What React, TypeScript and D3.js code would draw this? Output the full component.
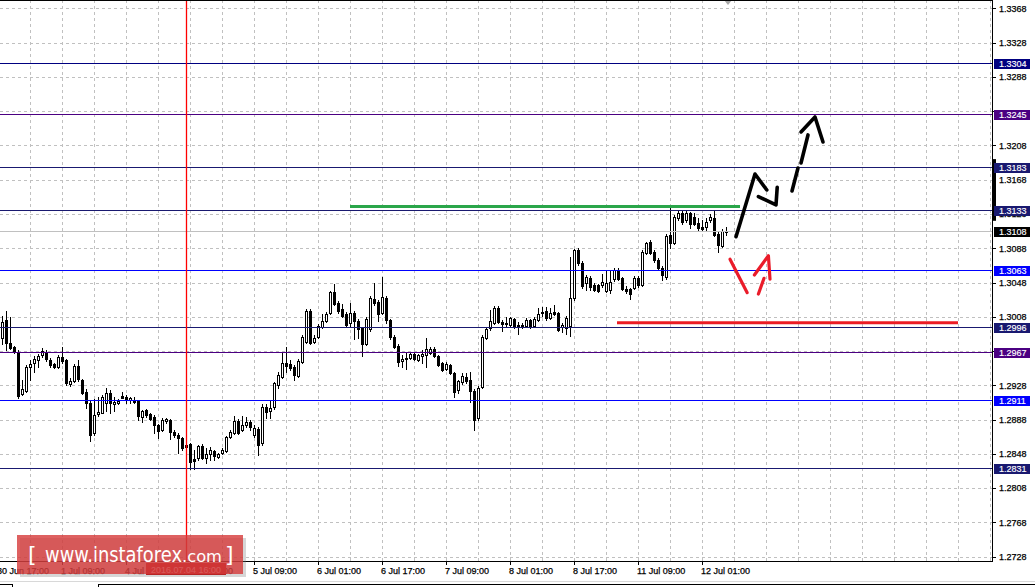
import React from "react";
import * as d3 from "d3";

// ---------- data ----------
const PRICE_MIN = 1.272298;
const PRICE_MAX = 1.337769;
const FIRST_BAR = 1; // bar index of first candle (bar 0 = 30 Jun 17:00, H1)

const opens = [
  1.2983, 1.3004, 1.2977, 1.2973, 1.2967, 1.2918, 1.2921, 1.2949, 1.2954, 1.2958,
  1.2963, 1.2966, 1.2958, 1.2953, 1.2949, 1.2961, 1.2958, 1.2930, 1.2933, 1.2951,
  1.2934, 1.2920, 1.2907, 1.2872, 1.2895, 1.2896, 1.2907, 1.2919, 1.2906, 1.2907,
  1.2916, 1.2914, 1.2911, 1.2911, 1.2911, 1.2891, 1.2899, 1.2895, 1.2891, 1.2882,
  1.2876, 1.2886, 1.2888, 1.2874, 1.2870, 1.2867, 1.2858, 1.2860, 1.2842, 1.2843,
  1.2857, 1.2843, 1.2848, 1.2851, 1.2844, 1.2849, 1.2851, 1.2868, 1.2872, 1.2886,
  1.2876, 1.2882, 1.2885, 1.2870, 1.2877, 1.2861, 1.2903, 1.2898, 1.2903, 1.2928,
  1.2938, 1.2954, 1.2953, 1.2949, 1.2939, 1.2955, 1.2979, 1.3015, 1.2979, 1.2984,
  1.2996, 1.3003, 1.3012, 1.3037, 1.3024, 1.3017, 1.3011, 1.3001, 1.3012, 1.3003,
  1.2995, 1.2976, 1.2994, 1.3029, 1.3025, 1.3012, 1.3030, 1.3004, 1.2984, 1.2974,
  1.2956, 1.2959, 1.2960, 1.2965, 1.2958, 1.2962, 1.2963, 1.2966, 1.2970, 1.2962,
  1.2954, 1.2947, 1.2952, 1.2942, 1.2923, 1.2932, 1.2938, 1.2934, 1.2921, 1.2890,
  1.2926, 1.2983, 1.2995, 1.3001, 1.3018, 1.3002, 1.3001, 1.2998, 1.3005, 1.2998,
  1.2998, 1.2997, 1.3004, 1.2997, 1.3004, 1.3014, 1.3015, 1.3007, 1.3014, 1.3012,
  1.2996, 1.2995, 1.2997, 1.3030, 1.3086, 1.3071, 1.3047, 1.3053, 1.3045, 1.3045,
  1.3045, 1.3038, 1.3039, 1.3052, 1.3063, 1.3053, 1.3040, 1.3040, 1.3042, 1.3053,
  1.3045, 1.3082, 1.3095, 1.3084, 1.3074, 1.3065, 1.3054, 1.3103, 1.3094, 1.3123,
  1.3129, 1.3121, 1.3129, 1.3125, 1.3118, 1.3113, 1.3113, 1.3121, 1.3123, 1.3105,
  1.3091, 1.3107,
];
const highs = [
  1.3009, 1.3015, 1.3008, 1.2974, 1.2969, 1.2934, 1.2952, 1.2958, 1.2962, 1.2965,
  1.2972, 1.2969, 1.2960, 1.2954, 1.2963, 1.2973, 1.2959, 1.2937, 1.2953, 1.2958,
  1.2935, 1.2924, 1.2910, 1.2912, 1.2914, 1.2917, 1.2925, 1.2922, 1.2914, 1.2912,
  1.2920, 1.2917, 1.2914, 1.2914, 1.2911, 1.2899, 1.2900, 1.2896, 1.2893, 1.2883,
  1.2890, 1.2890, 1.2889, 1.2876, 1.2872, 1.2868, 1.2861, 1.2861, 1.2853, 1.2858,
  1.2860, 1.2855, 1.2856, 1.2853, 1.2849, 1.2855, 1.2869, 1.2876, 1.2892, 1.2889,
  1.2892, 1.2891, 1.2888, 1.2882, 1.2879, 1.2906, 1.2906, 1.2910, 1.2932, 1.2944,
  1.2966, 1.2973, 1.2958, 1.2952, 1.2959, 1.2987, 1.3017, 1.3017, 1.2987, 1.3000,
  1.3011, 1.3014, 1.3038, 1.3046, 1.3026, 1.3023, 1.3014, 1.3024, 1.3015, 1.3005,
  1.2996, 1.3008, 1.3032, 1.3047, 1.3028, 1.3054, 1.3032, 1.3005, 1.2987, 1.2976,
  1.2963, 1.2966, 1.2967, 1.2967, 1.2965, 1.2969, 1.2983, 1.2973, 1.2973, 1.2963,
  1.2955, 1.2955, 1.2953, 1.2944, 1.2934, 1.2942, 1.2942, 1.2944, 1.2924, 1.2927,
  1.2987, 1.2996, 1.3016, 1.3021, 1.3021, 1.3004, 1.3008, 1.3008, 1.3007, 1.3002,
  1.3001, 1.3007, 1.3005, 1.3008, 1.3018, 1.3019, 1.3019, 1.3018, 1.3022, 1.3014,
  1.3001, 1.3009, 1.3078, 1.3087, 1.3088, 1.3073, 1.3057, 1.3056, 1.3047, 1.3046,
  1.3058, 1.3063, 1.3061, 1.3065, 1.3065, 1.3054, 1.3044, 1.3042, 1.3056, 1.3056,
  1.3086, 1.3095, 1.3098, 1.3086, 1.3077, 1.3067, 1.3105, 1.3136, 1.3127, 1.3133,
  1.3132, 1.3132, 1.3130, 1.3129, 1.3123, 1.3121, 1.3123, 1.3128, 1.3132, 1.3107,
  1.3110, 1.3113,
];
const lows = [
  1.2976, 1.2969, 1.2970, 1.2966, 1.2913, 1.2917, 1.2920, 1.2934, 1.2944, 1.2949,
  1.2961, 1.2956, 1.2949, 1.2948, 1.2948, 1.2954, 1.2928, 1.2927, 1.2932, 1.2933,
  1.2918, 1.2902, 1.2863, 1.2870, 1.2892, 1.2896, 1.2898, 1.2896, 1.2898, 1.2906,
  1.2913, 1.2907, 1.2907, 1.2907, 1.2888, 1.2885, 1.2891, 1.2888, 1.2872, 1.2867,
  1.2875, 1.2884, 1.2865, 1.2868, 1.2849, 1.2853, 1.2855, 1.2830, 1.2830, 1.2841,
  1.2842, 1.2837, 1.2841, 1.2841, 1.2843, 1.2848, 1.2850, 1.2867, 1.2871, 1.2871,
  1.2875, 1.2879, 1.2876, 1.2868, 1.2847, 1.2858, 1.2890, 1.2890, 1.2900, 1.2925,
  1.2937, 1.2944, 1.2946, 1.2934, 1.2938, 1.2954, 1.2977, 1.2976, 1.2977, 1.2983,
  1.2995, 1.3002, 1.3011, 1.3022, 1.3012, 1.3008, 1.2997, 1.2997, 1.2982, 1.2983,
  1.2962, 1.2975, 1.2991, 1.3022, 1.3003, 1.3011, 1.3001, 1.2982, 1.2972, 1.2951,
  1.2949, 1.2947, 1.2959, 1.2958, 1.2956, 1.2954, 1.2949, 1.2965, 1.2961, 1.2951,
  1.2945, 1.2946, 1.2941, 1.2914, 1.2919, 1.2930, 1.2931, 1.2909, 1.2876, 1.2888,
  1.2925, 1.2982, 1.2993, 1.3000, 1.3001, 1.2991, 1.2997, 1.2997, 1.2995, 1.2988,
  1.2995, 1.2996, 1.2995, 1.2996, 1.3003, 1.3009, 1.3004, 1.3005, 1.3010, 1.2991,
  1.2990, 1.2988, 1.2986, 1.3028, 1.3068, 1.3042, 1.3039, 1.3039, 1.3038, 1.3037,
  1.3043, 1.3037, 1.3036, 1.3050, 1.3051, 1.3039, 1.3036, 1.3029, 1.3040, 1.3043,
  1.3044, 1.3081, 1.3081, 1.3072, 1.3063, 1.3051, 1.3052, 1.3088, 1.3093, 1.3121,
  1.3116, 1.3119, 1.3112, 1.3115, 1.3109, 1.3108, 1.3109, 1.3119, 1.3102, 1.3084,
  1.3090, 1.3104,
];
const closes = [
  1.3002, 1.2977, 1.2972, 1.2967, 1.2916, 1.2924, 1.2949, 1.2953, 1.2959, 1.2962,
  1.2968, 1.2959, 1.2952, 1.2949, 1.2961, 1.2956, 1.2931, 1.2933, 1.2951, 1.2935,
  1.2919, 1.2907, 1.2870, 1.2893, 1.2897, 1.2914, 1.2919, 1.2907, 1.2909, 1.2910,
  1.2913, 1.2911, 1.2913, 1.2909, 1.2892, 1.2898, 1.2893, 1.2889, 1.2882, 1.2875,
  1.2888, 1.2889, 1.2874, 1.2870, 1.2867, 1.2855, 1.2856, 1.2839, 1.2840, 1.2857,
  1.2843, 1.2848, 1.2853, 1.2846, 1.2848, 1.2853, 1.2868, 1.2874, 1.2886, 1.2872,
  1.2882, 1.2885, 1.2879, 1.2878, 1.2858, 1.2903, 1.2897, 1.2902, 1.2931, 1.2940,
  1.2954, 1.2951, 1.2948, 1.2940, 1.2956, 1.2984, 1.3015, 1.2977, 1.2983, 1.2997,
  1.3003, 1.3011, 1.3037, 1.3023, 1.3015, 1.3009, 1.2998, 1.3012, 1.3003, 1.2994,
  1.2976, 1.3005, 1.3030, 1.3024, 1.3011, 1.3031, 1.3004, 1.2984, 1.2973, 1.2955,
  1.2959, 1.2960, 1.2965, 1.2959, 1.2963, 1.2965, 1.2970, 1.2970, 1.2962, 1.2952,
  1.2946, 1.2953, 1.2942, 1.2920, 1.2933, 1.2939, 1.2933, 1.2921, 1.2888, 1.2925,
  1.2984, 1.2994, 1.3003, 1.3018, 1.3002, 1.3000, 1.3000, 1.3007, 1.2996, 1.2996,
  1.2996, 1.3004, 1.2996, 1.3005, 1.3011, 1.3012, 1.3007, 1.3012, 1.3011, 1.2993,
  1.2998, 1.3007, 1.3030, 1.3086, 1.3071, 1.3044, 1.3054, 1.3043, 1.3039, 1.3038,
  1.3049, 1.3047, 1.3049, 1.3063, 1.3052, 1.3040, 1.3038, 1.3035, 1.3053, 1.3045,
  1.3084, 1.3094, 1.3082, 1.3074, 1.3065, 1.3057, 1.3102, 1.3094, 1.3125, 1.3129,
  1.3119, 1.3129, 1.3116, 1.3116, 1.3112, 1.3111, 1.3119, 1.3125, 1.3104, 1.3092,
  1.3108, 1.3108,
];

const timeLabels = [
  "30 Jun 17:00", "1 Jul 09:00", "4 Jul 01:00", "4 Jul 17:00", "5 Jul 09:00", "6 Jul 01:00",
  "6 Jul 17:00", "7 Jul 09:00", "8 Jul 01:00", "8 Jul 17:00", "11 Jul 09:00", "12 Jul 01:00",
];
const timeLabelBars = [0, 16, 32, 48, 64, 80, 96, 112, 128, 144, 160, 176];

const priceTicks = [
  1.2728, 1.2768, 1.2808, 1.2848, 1.2888, 1.2928, 1.2968, 1.3008, 1.3048,
  1.3088, 1.3128, 1.3168, 1.3208, 1.3248, 1.3288, 1.3328, 1.3368,
];

const levelPrices = [1.3304, 1.3245, 1.3183, 1.3133, 1.3063, 1.2996, 1.2967, 1.2911, 1.2831];
const levelKinds = ["navy", "purple", "midnight", "midnight", "blue", "midnight", "purple", "blue", "midnight"];
const currentPrice = 1.3108;

const markerBar = 47; // 2016.07.04 16:00
const markerLabel = "2016.07.04 16:00";

const greenLine = { from: 88, to: 185.5, price: 1.31367 };
const redLine = { from: 154.75, to: 240, price: 1.3001 };

const blackStrokes: [number, number][][] = [
  [[184.5, 1.31015], [189.25, 1.31746], [192.2, 1.3156]],
  [[190.1, 1.31482], [194.5, 1.31385], [194.8, 1.31591]],
  [[198.5, 1.31548], [200, 1.31816]],
  [[200.75, 1.31875], [202.5, 1.32202]],
  [[200.75, 1.32237], [204.25, 1.32412], [206.25, 1.3212]],
];
const redStrokes: [number, number][][] = [
  [[183, 1.30751], [187.3, 1.30361]],
  [[189.1, 1.30568], [192.6, 1.30793], [193, 1.30518]],
  [[191.5, 1.30529], [190.1, 1.30346]],
];
const axisMarkerRange = [1.3120, 1.3192];

// ---------- styles ----------
const FONT = "'Liberation Sans', Arial, sans-serif";
const KIND_COLOR: Record<string, string> = {
  navy: "#000080",
  purple: "#4b0082",
  midnight: "#191970",
  blue: "#0000ff",
};

export default function App() {
  const plotRight = 992;
  const plotBottom = 561;
  const x = d3.scaleLinear().domain([0, 248]).range([-2, 990]);
  const y = d3.scaleLinear().domain([PRICE_MIN, PRICE_MAX]).range([plotBottom, 0]);
  const px = (k: number) => Math.round(x(k));
  const py = (p: number) => Math.round(y(p));

  const gridBars = d3.range(8, 249, 8).filter((k) => x(k) < plotRight);

  const line = d3
    .line<[number, number]>()
    .x((d) => x(d[0]))
    .y((d) => y(d[1]));

  const candles = opens.map((o, i) => {
    const k = FIRST_BAR + i;
    const c = closes[i];
    const cx = px(k);
    const yh = py(highs[i]);
    const yl = py(lows[i]);
    const yt = py(Math.max(o, c));
    const yb = py(Math.min(o, c));
    const bull = c > o;
    return (
      <g key={i}>
        <line x1={cx + 0.5} x2={cx + 0.5} y1={yh} y2={yl + 1} stroke="#000" />
        {bull && yb - yt >= 2 ? (
          <rect x={cx - 0.5} y={yt + 0.5} width={2} height={yb - yt} fill="#fff" stroke="#000" />
        ) : (
          <rect x={cx - 1} y={yt} width={3} height={Math.max(yb - yt + 1, 1)} fill="#000" />
        )}
      </g>
    );
  });

  const levelYs = levelPrices.map((p) => y(p)).concat([y(currentPrice)]);
  const visibleTicks = priceTicks.filter((t) => levelYs.every((ly) => Math.abs(ly - y(t)) >= 4));

  const mx = px(markerBar);
  const shiftX = x(FIRST_BAR + opens.length - 0.5);

  return (
    <svg
      width={1035}
      height={587}
      style={{ position: "absolute", left: 0, top: 0, display: "block", background: "#fff" }}
      fontFamily={FONT}
    >
      <rect x={0} y={0} width={1035} height={587} fill="#fff" />
      {/* grid */}
      <g stroke="#c0c0c0" strokeDasharray="3,3" shapeRendering="crispEdges">
        {priceTicks.map((t, i) => (
          <line key={"h" + i} x1={0} x2={plotRight} y1={py(t) + 0.5} y2={py(t) + 0.5} />
        ))}
        {gridBars.map((k, i) => (
          <line key={"v" + i} x1={px(k) + 0.5} x2={px(k) + 0.5} y1={0} y2={plotBottom} />
        ))}
      </g>

      {/* candles */}
      <g shapeRendering="crispEdges">{candles}</g>

      {/* level lines */}
      <g shapeRendering="crispEdges">
        <line x1={0} x2={plotRight} y1={py(currentPrice) + 0.5} y2={py(currentPrice) + 0.5} stroke="#c0c0c0" />
        {levelPrices.map((p, i) => (
          <line key={i} x1={0} x2={plotRight} y1={py(p) + 0.5} y2={py(p) + 0.5} stroke={KIND_COLOR[levelKinds[i]]} />
        ))}
      </g>

      {/* vertical marker line */}
      <line x1={mx + 0.5} x2={mx + 0.5} y1={0} y2={plotBottom} stroke="#ff0000" strokeWidth={1.3} />

      {/* green and red horizontal lines */}
      <line x1={x(greenLine.from)} x2={x(greenLine.to)} y1={y(greenLine.price)} y2={y(greenLine.price)} stroke="#2aa64a" strokeWidth={3.2} />
      <line x1={x(redLine.from)} x2={x(redLine.to)} y1={y(redLine.price)} y2={y(redLine.price)} stroke="#ec1c24" strokeWidth={3} />

      {/* hand-drawn arrows */}
      <g fill="none" strokeLinecap="round" strokeLinejoin="round">
        {blackStrokes.map((s, i) => (
          <path key={"b" + i} d={line(s) || ""} stroke="#000" strokeWidth={3.6} />
        ))}
        {redStrokes.map((s, i) => (
          <path key={"r" + i} d={line(s) || ""} stroke="#ea1c2a" strokeWidth={3.2} />
        ))}
      </g>

      {/* chart shift marker */}
      <path d={`M${shiftX - 4},0 L${shiftX + 4},0 L${shiftX},5 Z`} fill="#a8a8a8" />

      {/* frame */}
      <g shapeRendering="crispEdges" stroke="#000">
        <line x1={0} x2={plotRight + 1} y1={0.5} y2={0.5} strokeWidth={1} />
        <line x1={plotRight + 0.5} x2={plotRight + 0.5} y1={0} y2={plotBottom + 1} />
        <line x1={0} x2={plotRight + 1} y1={plotBottom + 0.5} y2={plotBottom + 0.5} />
      </g>

      {/* right axis */}
      <g shapeRendering="crispEdges">
        {priceTicks.map((t, i) => (
          <line key={i} x1={plotRight} x2={plotRight + 4} y1={py(t) + 0.5} y2={py(t) + 0.5} stroke="#000" />
        ))}
      </g>
      <g fontSize={9} fill="#000" stroke="#000" strokeWidth={0.25}>
        {visibleTicks.map((t, i) => (
          <text key={i} x={999} y={y(t) + 3.3}>
            {t.toFixed(4)}
          </text>
        ))}
      </g>
      <rect
        x={plotRight + 1}
        y={y(axisMarkerRange[1])}
        width={3}
        height={y(axisMarkerRange[0]) - y(axisMarkerRange[1])}
        fill="#000"
      />
      {levelPrices.map((p, i) => (
        <g key={i}>
          <rect x={994} y={py(p) - 4.5} width={36} height={10} fill={KIND_COLOR[levelKinds[i]]} shapeRendering="crispEdges" />
          <text x={999} y={py(p) + 4} fontSize={9} fill="#fff" stroke="#fff" strokeWidth={0.15}>
            {p.toFixed(4)}
          </text>
        </g>
      ))}
      <g>
        <rect x={994} y={py(currentPrice) - 4.5} width={36} height={10} fill="#000" shapeRendering="crispEdges" />
        <text x={999} y={py(currentPrice) + 4} fontSize={9} fill="#fff" stroke="#fff" strokeWidth={0.15}>
          {currentPrice.toFixed(4)}
        </text>
      </g>

      {/* bottom axis */}
      <g shapeRendering="crispEdges">
        {timeLabelBars.map((k, i) => (
          <line key={i} x1={px(k) + 0.5} x2={px(k) + 0.5} y1={plotBottom} y2={plotBottom + 4} stroke="#000" />
        ))}
      </g>
      <g fontSize={9} fill="#000" stroke="#000" strokeWidth={0.25}>
        {timeLabels.map((s, i) => (
          <text key={i} x={px(timeLabelBars[i]) - 1} y={573.5}>
            {s}
          </text>
        ))}
      </g>
      <rect x={mx - 40} y={563} width={80} height={12} fill="#d00000" shapeRendering="crispEdges" />
      <text x={mx} y={572.5} fontSize={9} fill="#fff" textAnchor="middle">
        {markerLabel}
      </text>

      {/* window bottom */}
      <g shapeRendering="crispEdges">
        <line x1={0} x2={1035} y1={581.5} y2={581.5} stroke="#d8d8d8" />
        <line x1={0} x2={12} y1={584.5} y2={584.5} stroke="#000" />
        <line x1={12.5} x2={12.5} y1={584} y2={587} stroke="#000" />
        <line x1={98} x2={1035} y1={584.5} y2={584.5} stroke="#000" />
        <line x1={98.5} x2={98.5} y1={584} y2={587} stroke="#000" />
      </g>

      {/* logo */}
      <g>
        <rect x={20} y={538} width={226} height={39} fill="#777" opacity={0.3} />
        <rect x={17} y={535} width={226} height={39} fill="rgb(214,58,58)" opacity={0.8} />
        <g fill="#fff" fontFamily="'DejaVu Sans', Verdana, sans-serif">
          <text x={28} y={562} fontSize={22}>[</text>
          <text x={45} y={562} fontSize={22} textLength={137} lengthAdjust="spacingAndGlyphs">
            www.instaforex
          </text>
          <text x={182} y={562} fontSize={16} textLength={40} lengthAdjust="spacingAndGlyphs">
            .com
          </text>
          <text x={225} y={562} fontSize={22}>]</text>
        </g>
      </g>
    </svg>
  );
}
